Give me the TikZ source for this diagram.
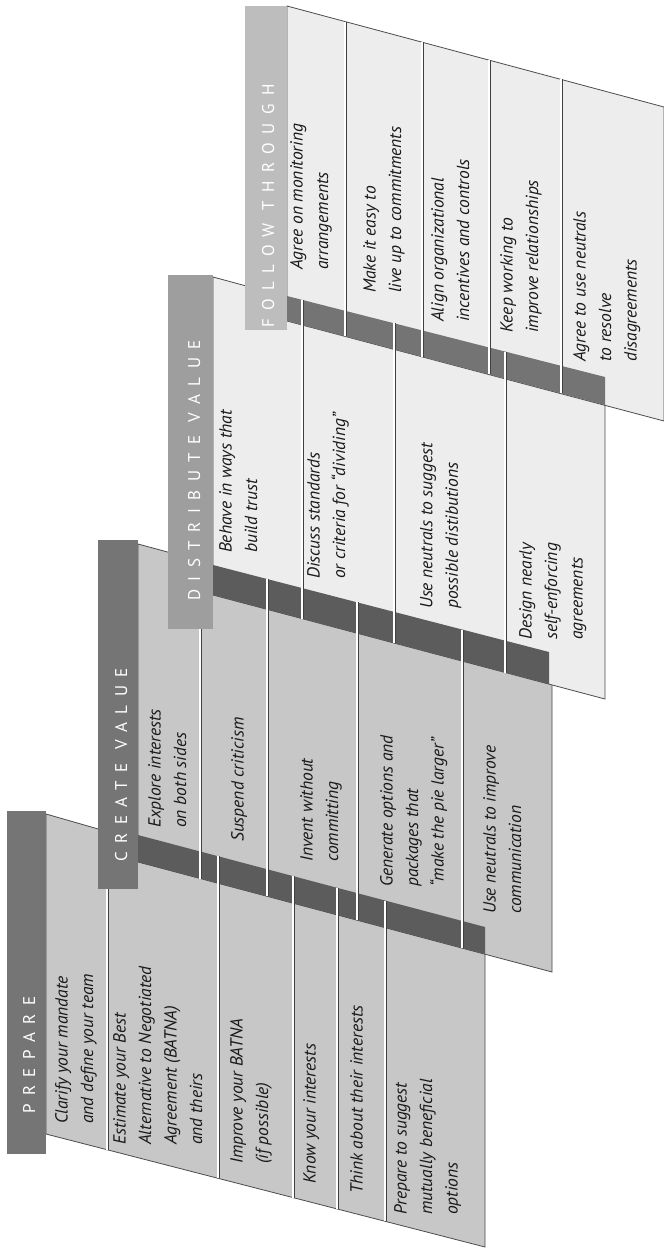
\documentclass[tikz,border=0pt]{standalone}
\usepackage{fontspec}
\setmainfont{PT Sans}
\newfontfamily\headfont[LetterSpace=50]{PT Sans}

\definecolor{headdark}{gray}{0.46}
\definecolor{headmid}{gray}{0.62}
\definecolor{headlight}{gray}{0.74}
\definecolor{bodydark}{gray}{0.78}
\definecolor{bodylight}{gray}{0.93}
\definecolor{bandcol}{gray}{0.36}

\tikzset{
  rowtext/.style={rotate=90, anchor=north west, inner sep=0pt, align=left,
    font=\fontsize{17.5}{25.5}\selectfont\itshape, text=black!90},
  headtext/.style={rotate=90, anchor=base west, inner sep=0pt,
    font=\fontsize{17}{20}\selectfont\headfont, text=white},
  sepline/.style={draw=black!75, line width=0.8pt, double=white, double distance=1.4pt},
  rim/.style={draw=black!70, line width=0.8pt}
}

\begin{document}
\begin{tikzpicture}[x=1pt, y=-1pt]
  \useasboundingbox (0,0) rectangle (664,1248);
  \fill[white] (0,0) rectangle (664,1248);

  % prepare panel
  \filldraw[fill=bodydark, rim] (46,814) -- (485,940) -- (485,1247) -- (46,1134) -- cycle;
  \fill[headdark] (7,811) rectangle (46,1154);

  % create value panel
  \filldraw[fill=bodydark, rim] (138,544) -- (552,656) -- (552,972) -- (138,862) -- cycle;
  \fill[headdark] (98,540) rectangle (138,889);
  \fill[bandcol] (138,835) -- (485,927) -- (485,954) -- (138,862) -- cycle;

  % distribute value panel
  \filldraw[fill=bodylight, rim] (213,277) -- (605,383) -- (605,699) -- (213,595) -- cycle;
  \fill[headmid] (168,275) rectangle (213,629);
  \fill[bandcol] (213,565) -- (549,652) -- (549,684) -- (213,595) -- cycle;

  % follow through panel
  \filldraw[fill=bodylight, rim] (287,6) -- (664,107) -- (664,421) -- (287,321) -- cycle;
  \fill[headlight] (245,6) rectangle (287,330);
  \fill[bandcol!85] (287,296) -- (605,377) -- (605,405) -- (287,321) -- cycle;

  % separators between the rows
  \draw[sepline] (107,889) -- (107,1149.7);
  \draw[sepline] (218,856.2) -- (218,1178.3);
  \draw[sepline] (293,876.1) -- (293,1197.6);
  \draw[sepline] (337,887.8) -- (337,1208.9);
  \draw[sepline] (385,900.5) -- (385,1221.3);

  \draw[sepline] (200,629) -- (200,878.5);
  \draw[sepline] (267,579) -- (267,896.3);
  \draw[sepline] (357,602.3) -- (357,920.2);
  \draw[sepline] (462,629.5) -- (462,948.1);

  \draw[sepline] (302,299.8) -- (302,618.6);
  \draw[sepline] (394,323.3) -- (394,643);
  \draw[sepline] (505,351.5) -- (505,672.5);

  \draw[sepline] (345,21.5) -- (345,336.3);
  \draw[sepline] (422,42.2) -- (422,356.7);
  \draw[sepline] (489,60.1) -- (489,374.4);
  \draw[sepline] (561,79.4) -- (561,393.4);

  % headings
  \node[headtext] (hprep) at (35,1114) {PREPARE};
  \node[headtext] (hcreate) at (127,862) {CREATE VALUE};
  \node[headtext] (hdist) at (200,601) {DISTRIBUTE VALUE};
  \node[headtext] (hfollow) at (274,328) {FOLLOW THROUGH};

  % rows of prepare
  \node[rowtext] (p1) at (55,1124) {Clarify your mandate\\and define your team};
  \node[rowtext] (p2) at (113,1145) {Estimate your Best\\Alternative to Negotiated\\Agreement (BATNA)\\and theirs};
  \node[rowtext] (p3) at (230,1164) {Improve your BATNA\\(if possible)};
  \node[rowtext] (p4) at (303,1184) {Know your interests};
  \node[rowtext] (p5) at (350,1194) {Think about their interests};
  \node[rowtext] (p6) at (394,1215) {Prepare to suggest\\mutually beneficial\\options};

  % rows of create value
  \node[rowtext] (c1) at (148,828) {Explore interests\\on both sides};
  \node[rowtext] (c2) at (231,842) {Suspend criticism};
  \node[rowtext] (c3) at (300,862) {Invent without\\committing};
  \node[rowtext] (c4) at (380,887) {Generate options and\\packages that\\“make the pie larger”};
  \node[rowtext] (c5) at (483,914) {Use neutrals to improve\\communication};

  % rows of distribute value
  \node[rowtext] (d1) at (219,553) {Behave in ways that\\build trust};
  \node[rowtext] (d2) at (307,579) {Discuss standards\\or criteria for “dividing”};
  \node[rowtext] (d3) at (420,609) {Use neutrals to suggest\\possible distibutions};
  \node[rowtext] (d4) at (519,640) {Design nearly\\self-enforcing\\agreements};

  % rows of follow through
  \node[rowtext] (f1) at (290,270) {Agree on monitoring\\arrangements};
  \node[rowtext] (f2) at (363,293) {Make it easy to\\live up to commitments};
  \node[rowtext] (f3) at (431,322) {Align organizational\\incentives and controls};
  \node[rowtext] (f4) at (500,333) {Keep working to\\improve relationships};
  \node[rowtext] (f5) at (573,362) {Agree to use neutrals\\to resolve\\disagreements};
\end{tikzpicture}
\end{document}
